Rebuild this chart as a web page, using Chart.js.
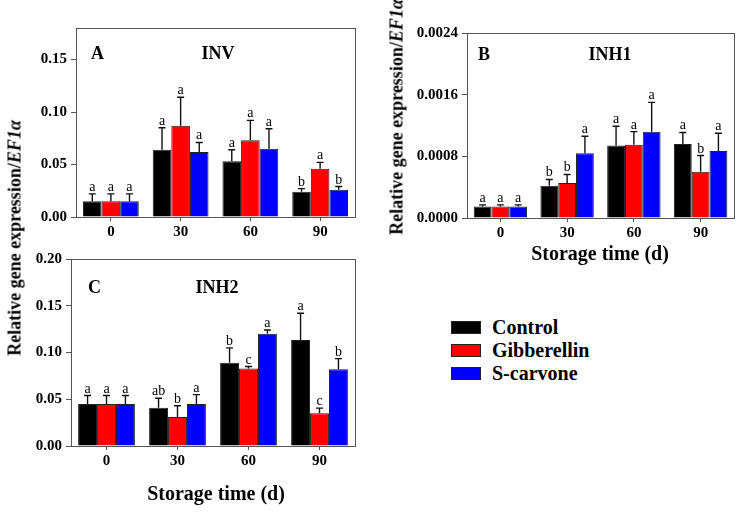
<!DOCTYPE html>
<html>
<head>
<meta charset="utf-8">
<script src="https://cdn.jsdelivr.net/npm/chart.js@4.4.0/dist/chart.umd.min.js"></script>
<style>
  body { margin: 0; background: #fff; font-family: 'Liberation Serif', serif; }
  #page { position: relative; width: 744px; height: 512px; overflow: hidden; font-family: 'Liberation Serif', serif; }
  canvas { position: absolute; }
  .ytitle, .xtitle { position: absolute; white-space: nowrap; font-weight: bold; color: #000; font-family: 'Liberation Serif', serif; }
  .ytitle { font-size: 18px; transform: translate(-50%, -50%) rotate(-90deg); }
  .xtitle { font-size: 20px; transform: translate(-50%, -50%); }
  #legend { position: absolute; left: 451px; top: 316px; font-family: 'Liberation Serif', serif; }
  .item { height: 23px; display: flex; align-items: center; font-weight: bold; font-size: 20px; }
  .box { width: 28px; height: 11px; border: 1px solid #222; margin-right: 11px; }
</style>
</head>
<body>
<div id="page">
  <canvas id="chartA" width="365" height="234" style="left:0px; top:15px;"></canvas>
  <canvas id="chartB" width="364" height="230" style="left:380px; top:20px;"></canvas>
  <canvas id="chartC" width="365" height="232" style="left:0px; top:246px;"></canvas>

  <div class="ytitle" style="left:15px; top:238px;">Relative gene expression/<i>EF1α</i></div>
  <div class="ytitle" style="left:397px; top:117px;">Relative gene expression/<i>EF1α</i></div>
  <div class="xtitle" style="left:600px; top:253px;">Storage time (d)</div>
  <div class="xtitle" style="left:216px; top:493px;">Storage time (d)</div>

  <div id="legend">
    <div class="item"><span class="box" style="background:#000000"></span>Control</div>
    <div class="item"><span class="box" style="background:#ff0000"></span>Gibberellin</div>
    <div class="item"><span class="box" style="background:#0000ff"></span>S-carvone</div>
  </div>
</div>

<script>
var categories = ['0', '30', '60', '90'];
var seriesNames = ['Control', 'Gibberellin', 'S-carvone'];
var seriesColors = ['#000000', '#ff0000', '#0000ff'];

// A - INV
var invControl = [0.015, 0.064, 0.053, 0.024];
var invGib = [0.015, 0.087, 0.073, 0.046];
var invCarvone = [0.015, 0.062, 0.065, 0.026];
var invControlErr = [0.007, 0.021, 0.011, 0.003];
var invGibErr = [0.007, 0.027, 0.019, 0.006];
var invCarvoneErr = [0.007, 0.009, 0.019, 0.003];
var invControlLetters = ['a', 'a', 'a', 'b'];
var invGibLetters = ['a', 'a', 'a', 'a'];
var invCarvoneLetters = ['a', 'a', 'a', 'b'];
var invTicks = [0, 0.05, 0.10, 0.15];

// B - INH1
var inh1Control = [0.00015, 0.00042, 0.00094, 0.00096];
var inh1Gib = [0.00015, 0.000455, 0.00095, 0.0006];
var inh1Carvone = [0.00015, 0.00084, 0.00112, 0.00087];
var inh1ControlErr = [0.00002, 0.00008, 0.00025, 0.00015];
var inh1GibErr = [0.00002, 0.00011, 0.00017, 0.00021];
var inh1CarvoneErr = [0.00002, 0.00022, 0.00038, 0.00023];
var inh1ControlLetters = ['a', 'b', 'a', 'a'];
var inh1GibLetters = ['a', 'b', 'a', 'b'];
var inh1CarvoneLetters = ['a', 'a', 'a', 'a'];
var inh1Ticks = [0, 0.0008, 0.0016, 0.0024];

// C - INH2
var inh2Control = [0.045, 0.041, 0.089, 0.1135];
var inh2Gib = [0.045, 0.031, 0.083, 0.035];
var inh2Carvone = [0.045, 0.045, 0.120, 0.082];
var inh2ControlErr = [0.009, 0.010, 0.016, 0.0285];
var inh2GibErr = [0.009, 0.012, 0.002, 0.0055];
var inh2CarvoneErr = [0.009, 0.010, 0.004, 0.0115];
var inh2ControlLetters = ['a', 'ab', 'b', 'a'];
var inh2GibLetters = ['a', 'b', 'c', 'c'];
var inh2CarvoneLetters = ['a', 'a', 'a', 'b'];
var inh2Ticks = [0, 0.05, 0.10, 0.15, 0.20];

var serif = "'Liberation Serif', serif";

// frame, error bars, significance letters and panel labels
var decorPlugin = {
  id: 'decor',
  afterDatasetsDraw: function(chart) {
    var ctx = chart.ctx;
    var area = chart.chartArea;
    var yScale = chart.scales.y;
    var p = chart.options.plugins.decor;

    ctx.save();
    chart.data.datasets.forEach(function(ds, di) {
      var meta = chart.getDatasetMeta(di);
      meta.data.forEach(function(bar, i) {
        var top = yScale.getPixelForValue(ds.data[i] + ds.errors[i]);
        ctx.strokeStyle = '#111';
        ctx.lineWidth = 1.4;
        ctx.beginPath();
        ctx.moveTo(bar.x, bar.y);
        ctx.lineTo(bar.x, top);
        ctx.moveTo(bar.x - 3.5, top);
        ctx.lineTo(bar.x + 3.5, top);
        ctx.stroke();

        ctx.fillStyle = '#000';
        ctx.font = '14px ' + serif;
        ctx.textAlign = 'center';
        ctx.textBaseline = 'alphabetic';
        ctx.fillText(ds.letters[i], bar.x, top - 3);
      });
    });

    ctx.strokeStyle = '#555';
    ctx.lineWidth = 1;
    ctx.strokeRect(Math.round(area.left) + 0.5, Math.round(area.top) + 0.5,
      Math.round(area.right - area.left), Math.round(area.bottom - area.top));

    ctx.fillStyle = '#000';
    ctx.font = 'bold 18px ' + serif;
    ctx.textAlign = 'left';
    ctx.fillText(p.label, area.left + p.labelX, area.top + p.labelY);
    ctx.textAlign = 'center';
    ctx.fillText(p.gene, area.left + p.geneX, area.top + p.labelY);
    ctx.restore();
  }
};

function makePanel(id, means, errs, letters, ticks, cfg) {
  var datasets = [];
  for (var s = 0; s < 3; s++) {
    datasets.push({
      label: seriesNames[s],
      data: means[s],
      errors: errs[s],
      letters: letters[s],
      backgroundColor: seriesColors[s],
      borderColor: '#222',
      borderWidth: 1,
      categoryPercentage: 0.8,
      barPercentage: 1.0
    });
  }
  var tickFont = { family: serif, size: 15, weight: 'bold' };
  new Chart(document.getElementById(id).getContext('2d'), {
    type: 'bar',
    data: { labels: categories, datasets: datasets },
    plugins: [decorPlugin],
    options: {
      responsive: false,
      animation: false,
      layout: { padding: { top: 10, right: 10, left: 0, bottom: 0 } },
      plugins: {
        legend: { display: false },
        tooltip: { enabled: false },
        decor: { label: cfg.label, gene: cfg.gene, labelX: cfg.labelX, labelY: cfg.labelY, geneX: cfg.geneX }
      },
      scales: {
        x: {
          grid: { display: true, drawOnChartArea: false, offset: false, tickLength: 4, color: '#555' },
          border: { color: '#555' },
          ticks: { font: tickFont, color: '#000', padding: 2 },
          afterFit: function(scale) { scale.height = 32; }
        },
        y: {
          min: 0,
          max: cfg.max,
          grid: { drawOnChartArea: false, tickLength: 5, color: '#555' },
          border: { color: '#555' },
          ticks: {
            font: tickFont,
            color: '#000',
            padding: 4,
            callback: function(v) { return v.toFixed(cfg.decimals); }
          },
          afterBuildTicks: function(scale) {
            scale.ticks = ticks.map(function(v) { return { value: v }; });
          },
          afterFit: function(scale) { scale.width = cfg.yWidth; }
        }
      }
    }
  });
}

makePanel('chartA',
  [invControl, invGib, invCarvone],
  [invControlErr, invGibErr, invCarvoneErr],
  [invControlLetters, invGibLetters, invCarvoneLetters],
  invTicks,
  { max: 0.18, decimals: 2, yWidth: 76, label: 'A', gene: 'INV', labelX: 15, labelY: 31, geneX: 142 });

makePanel('chartB',
  [inh1Control, inh1Gib, inh1Carvone],
  [inh1ControlErr, inh1GibErr, inh1CarvoneErr],
  [inh1ControlLetters, inh1GibLetters, inh1CarvoneLetters],
  inh1Ticks,
  { max: 0.0024, decimals: 4, yWidth: 87, label: 'B', gene: 'INH1', labelX: 11, labelY: 27, geneX: 143 });

makePanel('chartC',
  [inh2Control, inh2Gib, inh2Carvone],
  [inh2ControlErr, inh2GibErr, inh2CarvoneErr],
  [inh2ControlLetters, inh2GibLetters, inh2CarvoneLetters],
  inh2Ticks,
  { max: 0.20, decimals: 2, yWidth: 71, label: 'C', gene: 'INH2', labelX: 17, labelY: 34, geneX: 146 });
</script>
</body>
</html>
